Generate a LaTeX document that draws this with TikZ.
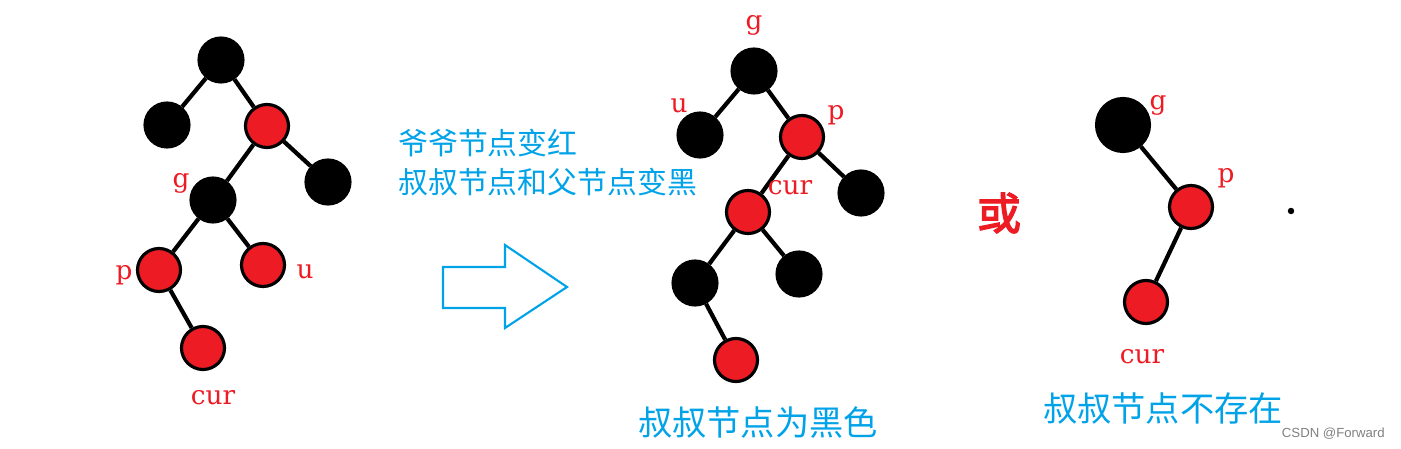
\documentclass[tikz,border=0pt]{standalone}
\usepackage{fontspec}
\usepackage{xcolor}
\setsansfont{Liberation Sans}
\newfontfamily\cjk[AutoFakeBold=3]{Noto Sans CJK SC}
\newfontfamily\lblfont{DejaVu Serif}
\usetikzlibrary{positioning}
\definecolor{nodered}{RGB}{237,28,36}
\definecolor{hintblue}{RGB}{0,162,232}

\begin{document}
\begin{tikzpicture}[
  x=0.02cm, y=-0.02cm,
  blk/.style={circle, draw, fill=black, line width=1.2pt,
              minimum size=0.9cm, inner sep=0pt},
  rd/.style={circle, draw, fill=nodered, line width=1.8pt,
             minimum size=0.86cm, inner sep=0pt},
  lbl/.style={text=nodered, font=\lblfont\fontsize{15}{15}\selectfont, inner sep=0pt},
  link/.style={line width=2.4pt},
  hint/.style={text=hintblue, font=\cjk\fontsize{17}{17}\selectfont,
               inner sep=0pt, anchor=west},
  caption/.style={text=hintblue, font=\cjk\fontsize{19.5}{20}\selectfont,
                  inner sep=0pt},
]
\useasboundingbox (0,0) rectangle (1401,449);

% before: g black, p and u red
\node[blk] (a1) at (221,60)  {};
\node[blk] (a2) at (167,125) {};
\node[rd]  (a3) at (267,126) {};
\node[blk] (a4) at (328,182) {};
\node[blk] (ag) at (213,200) {};
\node[rd]  (ap) at (159,270) {};
\node[rd]  (au) at (263,265) {};
\node[rd]  (ac) at (203,348) {};
\draw[link] (a1)--(a2);  \draw[link] (a1)--(a3);
\draw[link] (a3)--(a4);  \draw[link] (a3)--(ag);
\draw[link] (ag)--(ap);  \draw[link] (ag)--(au);
\draw[link] (ap)--(ac);
\node[lbl] (agl) at (181,183) {g};
\node[lbl] (apl) at (124,275) {p};
\node[lbl] (aul) at (305,272) {u};
\node[lbl] (acl) at (213,398) {cur};

% what happens
\node[hint] (h1) at (398,143) {爷爷节点变红};
\node[hint] (h2) at (398,182) {叔叔节点和父节点变黑};
\draw[hintblue, line width=1.2pt] (443,267) -- (505,267) -- (505,245)
  -- (567,287) -- (505,328) -- (505,308) -- (443,308) -- cycle;

% uncle black
\node[blk] (bg)  at (754,71)  {};
\node[blk] (bu)  at (700,135) {};
\node[rd]  (bp)  at (802,137) {};
\node[blk] (b1)  at (861,193) {};
\node[rd]  (bc)  at (748,212) {};
\node[blk] (b2)  at (695,283) {};
\node[blk] (b3)  at (799,274) {};
\node[rd]  (b4)  at (736,360) {};
\draw[link] (bg)--(bu);  \draw[link] (bg)--(bp);
\draw[link] (bp)--(b1);  \draw[link] (bp)--(bc);
\draw[link] (bc)--(b2);  \draw[link] (bc)--(b3);
\draw[link] (b2)--(b4);
\node[lbl] (bgl) at (754,25)  {g};
\node[lbl] (bul) at (679,106) {u};
\node[lbl] (bpl) at (836,115) {p};
\node[lbl] (bcl) at (790,188) {cur};
\node[caption] (bt) at (758,422) {叔叔节点为黑色};

\node[text=nodered, font=\cjk\bfseries\fontsize{25}{25}\selectfont,
      inner sep=0pt] (or) at (999,213) {或};

% uncle missing
\node[blk, minimum size=1.08cm] (cg) at (1123,125) {};
\node[rd] (cp) at (1191,207) {};
\node[rd] (cc) at (1146,302) {};
\draw[link] (cg)--(cp);  \draw[link] (cp)--(cc);
\node[lbl] (cgl) at (1158,105) {g};
\node[lbl] (cpl) at (1226,178) {p};
\node[lbl] (ccl) at (1142,357) {cur};
\node[caption] (ct) at (1163,408) {叔叔节点不存在};
\node[circle, fill, inner sep=1.3pt] (dot) at (1291,211) {};

\node[text=gray, font=\sffamily\fontsize{7.5}{8}\selectfont, anchor=east,
      inner sep=0pt] (mark) at (1385,434) {CSDN @Forward};
\end{tikzpicture}
\end{document}
